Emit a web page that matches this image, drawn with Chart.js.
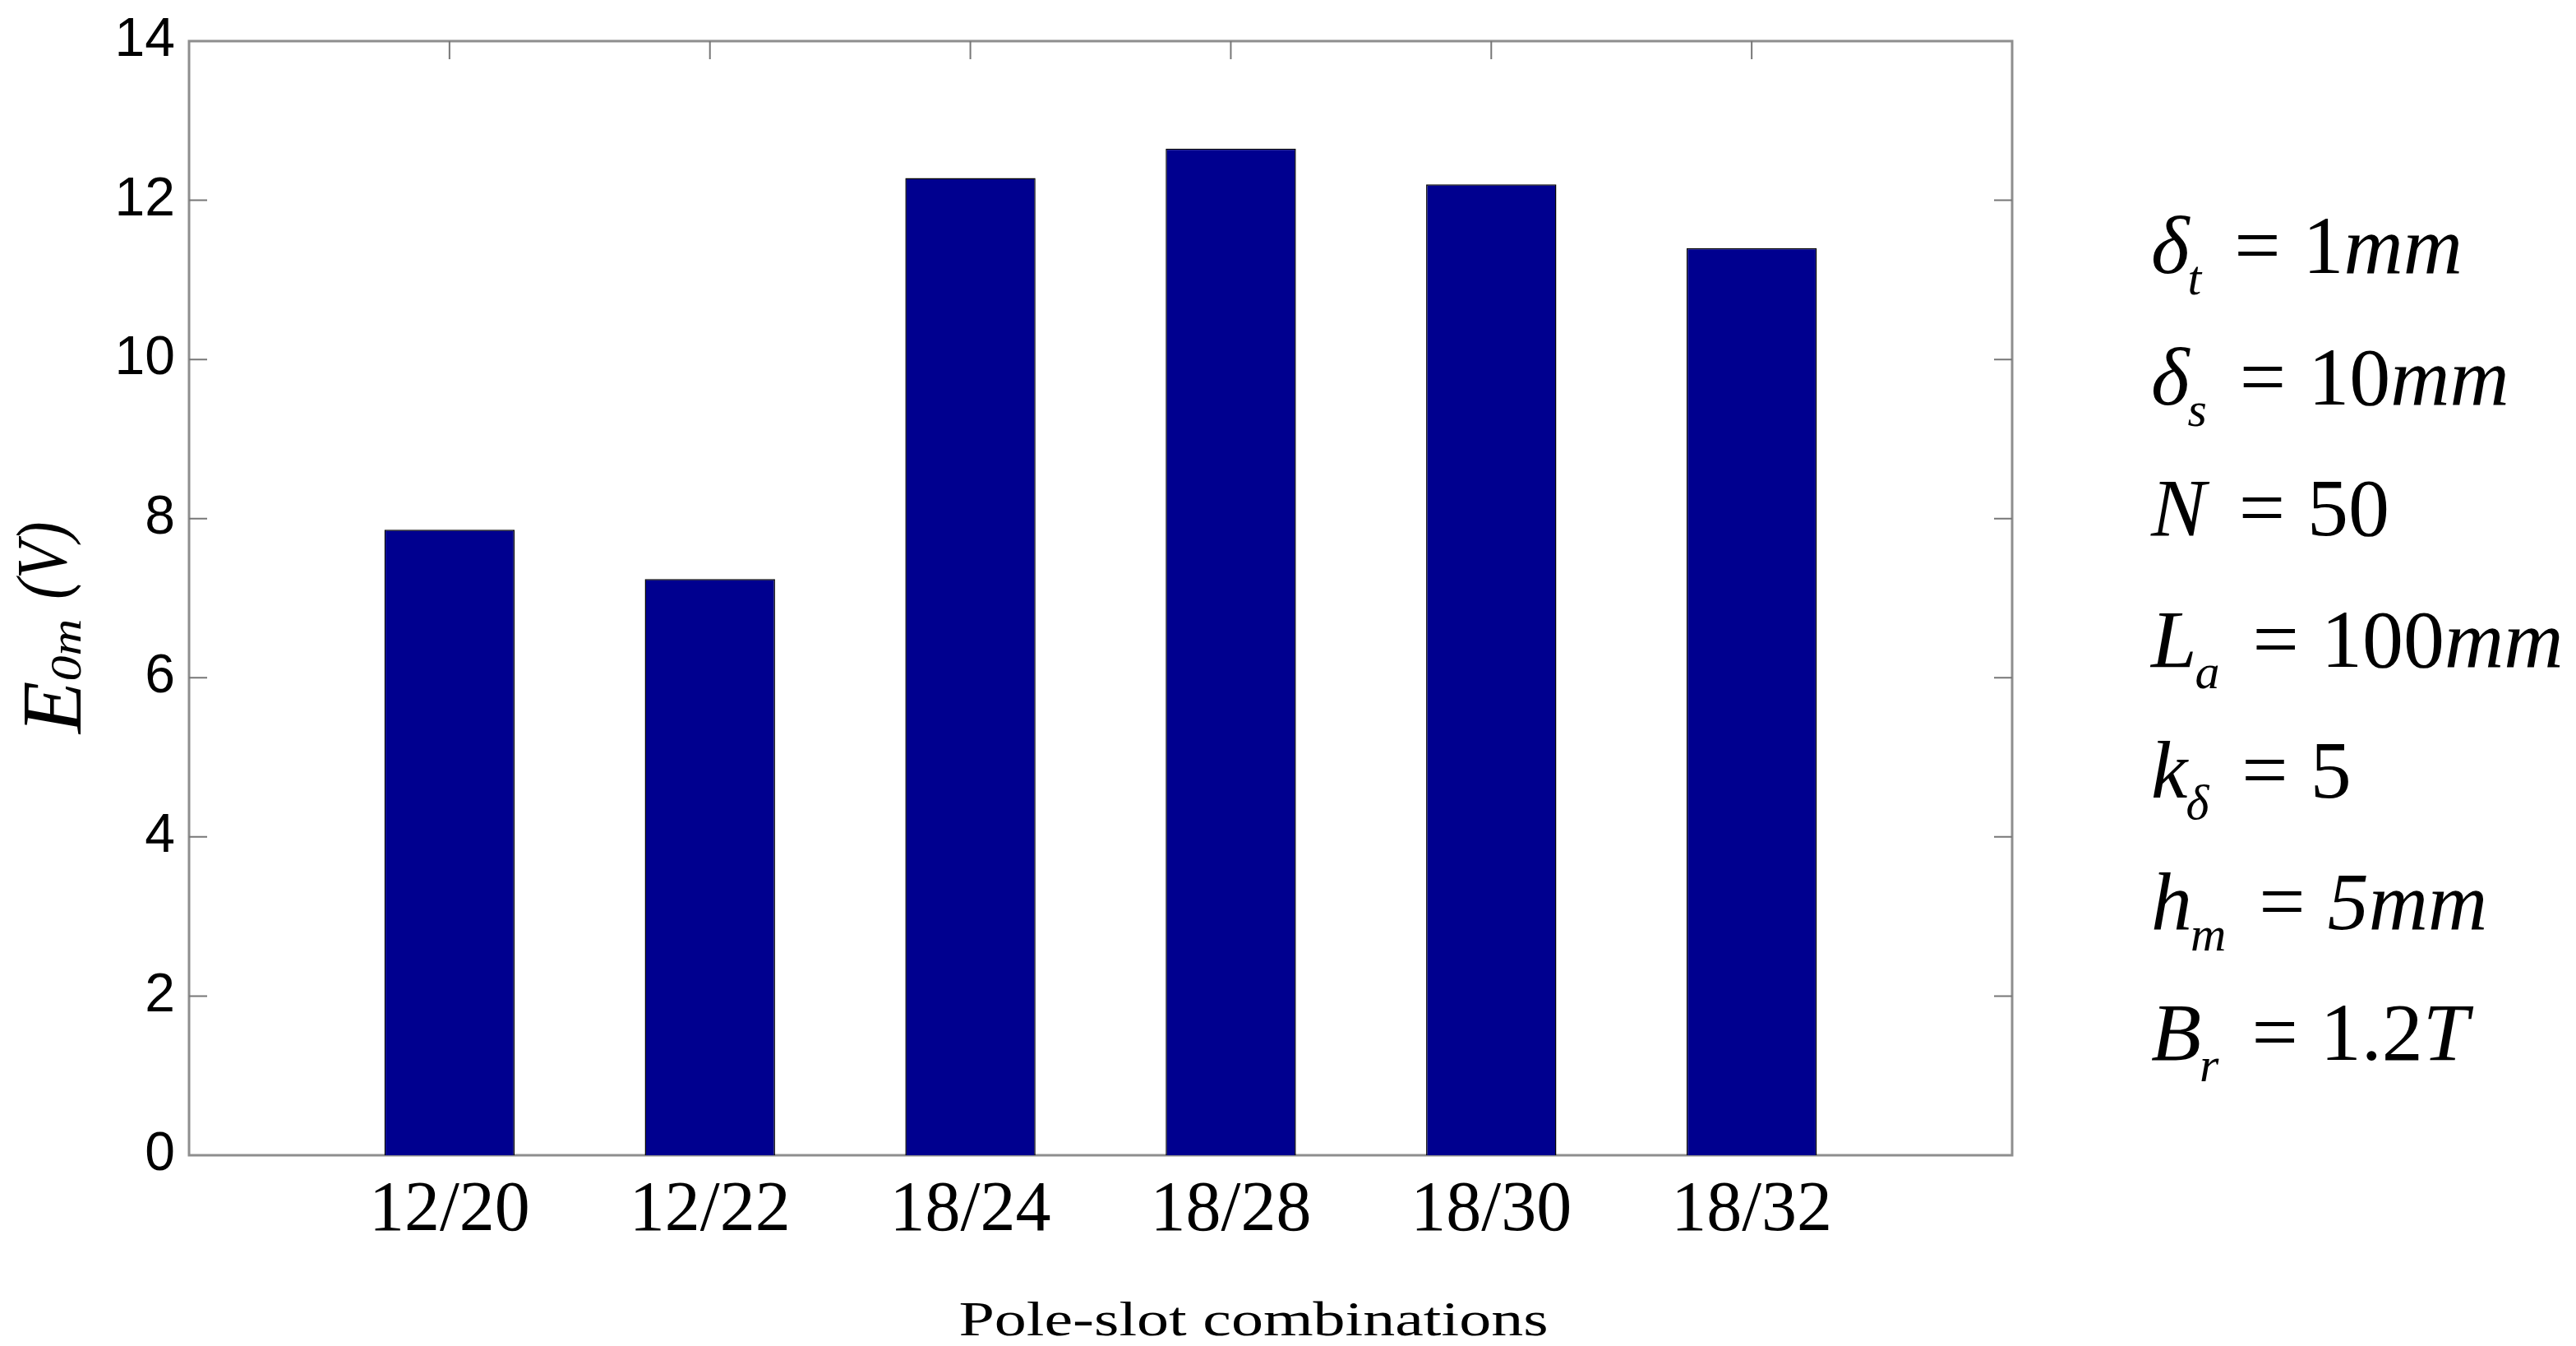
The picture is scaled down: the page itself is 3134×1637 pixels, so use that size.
<!DOCTYPE html>
<html>
<head>
<meta charset="utf-8">
<script src="https://cdn.jsdelivr.net/npm/chart.js@4.4.1/dist/chart.umd.min.js"></script>
<style>
  html, body { margin: 0; padding: 0; background: #fff; }
  #wrap { width: 3134px; height: 1637px; }
</style>
</head>
<body>
<div id="wrap"><canvas id="chart" width="3134" height="1637"></canvas></div>
<script>
// values
const combos = ['12/20', '12/22', '18/24', '18/28', '18/30', '18/32'];
const emf = [7.86, 7.24, 12.28, 12.65, 12.20, 11.40];
const yTicks = [0, 2, 4, 6, 8, 10, 12, 14];
const xTitle = 'Pole-slot combinations';

// machine parameters box on the right: [text, style]
const paramLines = [
    [['δ', 'i'], ['t', 's'], ['=', 'eq'], ['1', 'r'], ['mm', 'i']],
    [['δ', 'i'], ['s', 's'], ['=', 'eq'], ['10', 'r'], ['mm', 'i']],
    [['N', 'i'], ['=', 'eq'], ['50', 'r']],
    [['L', 'i'], ['a', 's'], ['=', 'eq'], ['100', 'r'], ['mm', 'i']],
    [['k', 'i'], ['δ', 's'], ['=', 'eq'], ['5', 'r']],
    [['h', 'i'], ['m', 's'], ['=', 'eq'], ['5mm', 'i']],
    [['B', 'i'], ['r', 's'], ['=', 'eq'], ['1.2', 'r'], ['T', 'i']]
];

const serif = '"Liberation Serif", "Times New Roman", serif';
const sans = '"Liberation Sans Narrow", "Liberation Sans", Arial, sans-serif';

function drawRuns(ctx, x, y, runs) {
    let cx = x;
    runs.forEach(r => {
        cx += r.padL || 0;
        ctx.save();
        ctx.font = r.font;
        ctx.textAlign = 'left';
        ctx.textBaseline = 'alphabetic';
        ctx.translate(cx, y + (r.dy || 0));
        ctx.scale(r.sx || 1, r.sy || 1);
        ctx.fillText(r.t, 0, 0);
        const w = ctx.measureText(r.t).width * (r.sx || 1);
        ctx.restore();
        cx += w + (r.padR || 0);
    });
}

function paramRun(text, style) {
    if (style === 'i') return {t: text, font: `italic 100px ${serif}`};
    if (style === 's') return {t: text, font: `italic 60px ${serif}`, dy: 26, padL: -2};
    if (style === 'eq') return {t: text, font: `100px ${serif}`, padL: 40, padR: 27};
    return {t: text, font: `100px ${serif}`};
}

const frame = {
    id: 'frame',
    beforeDatasetsDraw(chart) {
        const {ctx, chartArea: a, scales: {x, y}} = chart;
        ctx.save();
        ctx.strokeStyle = '#8e8e8e';
        ctx.lineWidth = 3;
        ctx.strokeRect(a.left, a.top, a.right - a.left, a.bottom - a.top);

        // matlab style inward ticks on all four sides
        ctx.strokeStyle = '#777';
        ctx.lineWidth = 2;
        ctx.beginPath();
        y.ticks.forEach(t => {
            if (t.value <= y.min || t.value >= y.max) return;
            const py = y.getPixelForValue(t.value);
            ctx.moveTo(a.left, py); ctx.lineTo(a.left + 22, py);
            ctx.moveTo(a.right, py); ctx.lineTo(a.right - 22, py);
        });
        x.ticks.forEach(t => {
            const px = x.getPixelForValue(t.value);
            ctx.moveTo(px, a.top); ctx.lineTo(px, a.top + 22);
            ctx.moveTo(px, a.bottom); ctx.lineTo(px, a.bottom - 22);
        });
        ctx.stroke();
        ctx.restore();
    },
    afterDraw(chart) {
        const ctx = chart.ctx;
        ctx.save();
        ctx.fillStyle = '#000';

        // x axis title (stretched a bit wider in the original)
        ctx.save();
        ctx.font = `60px ${serif}`;
        ctx.textAlign = 'center';
        ctx.translate(1525, 1624);
        ctx.scale(1.3, 1);
        ctx.fillText(xTitle, 0, 0);
        ctx.restore();

        // y axis title E0m (V), rotated
        ctx.save();
        ctx.translate(98, 892);
        ctx.rotate(-Math.PI / 2);
        drawRuns(ctx, 0, 0, [
            {t: 'E', font: `italic 104px ${serif}`},
            {t: '0m', font: `italic 62px ${serif}`, sy: 0.85},
            {t: '(V)', font: `italic 86px ${serif}`, padL: 24, dy: -18, sx: 0.86}
        ]);
        ctx.restore();

        // parameter list
        paramLines.forEach((line, i) => {
            drawRuns(ctx, 2617, 332 + i * 159.5, line.map(([t, s]) => paramRun(t, s)));
        });
        ctx.restore();
    }
};

new Chart(document.getElementById('chart'), {
    type: 'bar',
    data: {
        datasets: [{
            data: emf.map((v, i) => ({x: i + 1, y: v})),
            backgroundColor: '#00008f',
            borderColor: '#000',
            borderWidth: 1.5,
            barPercentage: 0.5,
            categoryPercentage: 1
        }]
    },
    options: {
        responsive: false,
        animation: false,
        devicePixelRatio: 1,
        layout: {padding: {left: 0, top: 50, right: 686, bottom: 0}},
        plugins: {
            legend: {display: false},
            tooltip: {enabled: false}
        },
        scales: {
            x: {
                type: 'linear',
                min: 0,
                max: combos.length + 1,
                offset: false,
                grid: {display: false, drawTicks: false},
                border: {display: false},
                afterBuildTicks: s => { s.ticks = combos.map((c, i) => ({value: i + 1})); },
                afterFit: s => {
                    s.height = 232;
                    s.paddingLeft = 0;
                    s.paddingRight = 0;
                },
                ticks: {
                    autoSkip: false,
                    maxRotation: 0,
                    padding: 17,
                    color: '#000',
                    font: {family: serif, size: 86},
                    callback: v => combos[v - 1] || ''
                }
            },
            y: {
                min: yTicks[0],
                max: yTicks[yTicks.length - 1],
                grid: {display: false, drawTicks: false},
                border: {display: false},
                afterBuildTicks: s => { s.ticks = yTicks.map(v => ({value: v})); },
                afterFit: s => {
                    s.width = 230;
                    s.paddingTop = 0;
                    s.paddingBottom = 0;
                },
                ticks: {
                    padding: 17,
                    color: '#000',
                    font: {family: sans, size: 66}
                }
            }
        }
    },
    plugins: [frame]
});
</script>
</body>
</html>
